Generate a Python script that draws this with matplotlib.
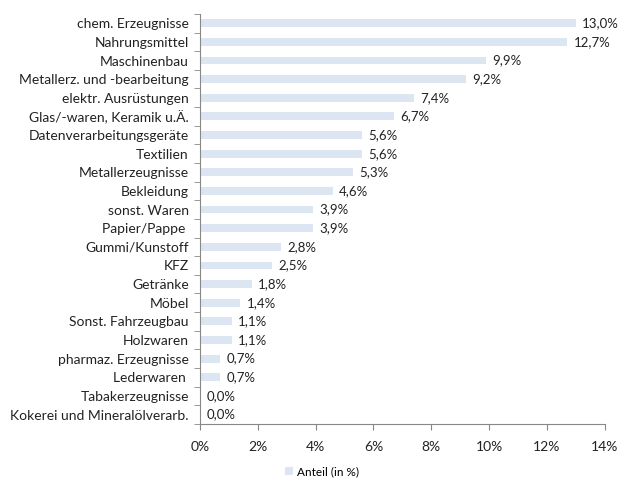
import matplotlib
matplotlib.use("Agg")
import matplotlib.pyplot as plt
import numpy as np
from matplotlib.ticker import FixedLocator, FuncFormatter

categories = ["chem. Erzeugnisse", "Nahrungsmittel", "Maschinenbau",
              "Metallerz. und -bearbeitung", "elektr. Ausrüstungen",
              "Glas/-waren, Keramik u.Ä.", "Datenverarbeitungsgeräte", "Textilien",
              "Metallerzeugnisse", "Bekleidung", "sonst. Waren", "Papier/Pappe ",
              "Gummi/Kunstoff", "KFZ", "Getränke", "Möbel", "Sonst. Fahrzeugbau",
              "Holzwaren", "pharmaz. Erzeugnisse", "Lederwaren ", "Tabakerzeugnisse",
              "Kokerei und Mineralölverarb."]
values = [13.0, 12.7, 9.9, 9.2, 7.4, 6.7, 5.6, 5.6, 5.3, 4.6, 3.9, 3.9,
          2.8, 2.5, 1.8, 1.4, 1.1, 1.1, 0.7, 0.7, 0.0, 0.0]
series_name = "Anteil (in %)"
xticks = [0, 2, 4, 6, 8, 10, 12, 14]

plt.rcParams['font.family'] = ['Lato', 'DejaVu Sans']
fig = plt.figure(figsize=(6.19, 4.8), dpi=100)
ax = fig.add_axes([0.323, 0.117, 0.654, 0.854])

n = len(categories)
y = np.arange(n)[::-1]
color = "#dce6f2"
ax.barh(y, values, height=0.42, color=color, label=series_name, zorder=2)
for yi, v in zip(y, values):
    ax.text(v + 0.22, yi, f"{v:.1f}%".replace('.', ','), va='center', ha='left',
            fontsize=9.5, color='#222222')

ax.set_ylim(-0.5, n - 0.5)
ax.set_xlim(0, 14)
ax.set_yticks(y)
ax.set_yticklabels(categories, fontsize=10, color='#222222')
ax.tick_params(axis='y', length=0, pad=8)
ax.yaxis.set_minor_locator(FixedLocator(np.arange(-0.5, n, 1.0)))
ax.tick_params(axis='y', which='minor', length=4, color='#888888')
ax.set_xticks(xticks)
ax.xaxis.set_major_formatter(FuncFormatter(lambda v, p: f"{int(v)}%"))
ax.tick_params(axis='x', length=4, color='#888888', labelsize=10, pad=8,
               labelcolor='#222222')
for s in ['top', 'right']:
    ax.spines[s].set_visible(False)
for s in ['left', 'bottom']:
    ax.spines[s].set_color('#888888')
    ax.spines[s].set_linewidth(0.8)

leg = fig.legend(loc='center', bbox_to_anchor=(0.52, 0.017), frameon=False,
                 fontsize=8.5, handlelength=0.7, handleheight=0.7, handletextpad=0.3)

fig.savefig("out.png", dpi=100, facecolor='white')
